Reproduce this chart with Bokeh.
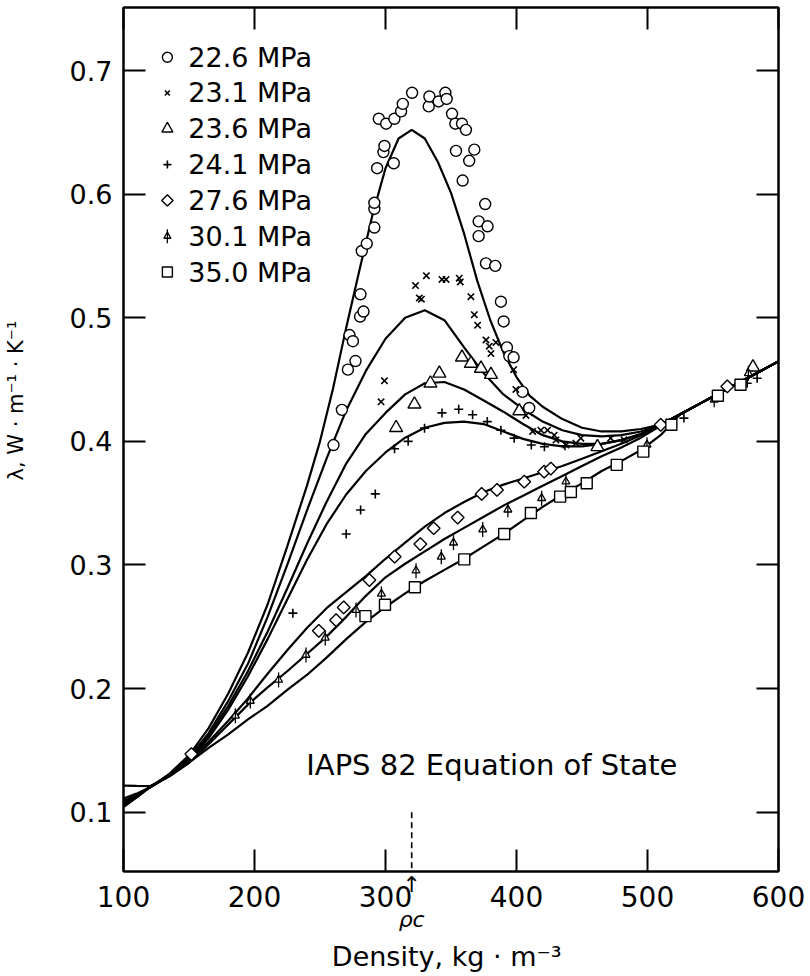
import math
from bokeh.plotting import figure
from bokeh.models import Range1d, LinearAxis, FixedTicker, Label, Title
from bokeh.core.properties import value
from bokeh.embed import file_html
from bokeh.resources import INLINE

FONT = "DejaVu Sans"
INK = "black"

# ---- fitted (IAPS 82) curves: thermal conductivity vs density ----
rho_fit_226 = [100, 110, 120, 135, 150, 165, 180, 195, 210, 225, 240, 250, 260, 270, 280,
               290, 300, 310, 320, 330, 340, 350, 360, 370, 380, 390, 400, 410, 420, 435,
               450, 465, 480, 495, 510, 525, 540, 570, 600]
lam_fit_226 = [0.104, 0.112, 0.120, 0.131, 0.146, 0.168, 0.196, 0.229, 0.268, 0.315, 0.364,
               0.400, 0.443, 0.492, 0.538, 0.583, 0.621, 0.645, 0.652, 0.645, 0.626, 0.601,
               0.568, 0.530, 0.498, 0.472, 0.452, 0.437, 0.428, 0.418, 0.411, 0.408, 0.408,
               0.410, 0.4135, 0.422, 0.4305, 0.4476, 0.4647]

rho_fit = [100, 110, 120, 135, 150, 165, 180, 195, 210, 225, 240, 255, 270, 285, 300, 315,
           330, 345, 360, 375, 390, 405, 420, 435, 450, 465, 480, 495, 510, 525, 540, 570, 600]
lam_fit_231 = [0.105, 0.112, 0.120, 0.130, 0.144, 0.164, 0.190, 0.220, 0.258, 0.300, 0.344,
               0.386, 0.425, 0.457, 0.483, 0.500, 0.506, 0.498, 0.476, 0.455, 0.438, 0.426,
               0.416, 0.409, 0.405, 0.404, 0.405, 0.408, 0.4135, 0.422, 0.4305, 0.4476, 0.4647]
lam_fit_236 = [0.106, 0.113, 0.120, 0.130, 0.143, 0.162, 0.186, 0.214, 0.246, 0.281, 0.317,
               0.351, 0.382, 0.406, 0.423, 0.438, 0.447, 0.448, 0.442, 0.433, 0.424, 0.414,
               0.405, 0.400, 0.398, 0.398, 0.401, 0.406, 0.4135, 0.422, 0.4305, 0.4476, 0.4647]
lam_fit_241 = [0.107, 0.114, 0.120, 0.130, 0.142, 0.160, 0.183, 0.210, 0.240, 0.272, 0.304,
               0.333, 0.357, 0.376, 0.391, 0.403, 0.411, 0.415, 0.416, 0.414, 0.408, 0.402,
               0.398, 0.396, 0.396, 0.398, 0.401, 0.406, 0.4135, 0.422, 0.4305, 0.4476, 0.4647]
lam_fit_276 = [0.109, 0.114, 0.120, 0.130, 0.142, 0.157, 0.174, 0.192, 0.212, 0.231, 0.249,
               0.265, 0.278, 0.291, 0.305, 0.318, 0.331, 0.342, 0.351, 0.359, 0.365, 0.370,
               0.375, 0.380, 0.386, 0.392, 0.398, 0.405, 0.4135, 0.422, 0.4305, 0.4476, 0.4647]
lam_fit_301 = [0.111, 0.115, 0.120, 0.129, 0.140, 0.155, 0.171, 0.187, 0.201, 0.214, 0.228,
               0.242, 0.258, 0.275, 0.290, 0.301, 0.311, 0.321, 0.330, 0.339, 0.348, 0.356,
               0.364, 0.372, 0.380, 0.388, 0.395, 0.403, 0.4125, 0.422, 0.4305, 0.4476, 0.4647]
lam_fit_350 = [0.1215, 0.1212, 0.121, 0.129, 0.140, 0.152, 0.163, 0.175, 0.186, 0.199, 0.211,
               0.225, 0.240, 0.254, 0.266, 0.277, 0.287, 0.296, 0.305, 0.315, 0.325, 0.336,
               0.347, 0.357, 0.366, 0.376, 0.384, 0.393, 0.405, 0.422, 0.4305, 0.4476, 0.4647]

# ---- measured points, one pair of lists per isobar ----
rho_226 = [260.3, 266.7, 271.3, 277.1, 272.5, 275.1, 280.6, 283.2, 280.9, 281.9, 285.7, 291.5,
           291.5, 291.5, 293.6, 298.4, 299.2, 306.3, 294.9, 300.5, 306.8, 311.9, 313.2, 320.3,
           333.0, 333.5, 340.6, 345.7, 346.7, 350.8, 353.3, 358.4, 361.4, 353.8, 363.9, 367.8,
           358.9, 371.1, 376.1, 377.9, 371.1, 376.7, 383.8, 388.1, 390.2, 392.7, 394.5, 397.8,
           404.6, 409.7]
lam_226 = [0.397, 0.4255, 0.458, 0.465, 0.486, 0.481, 0.501, 0.505, 0.519, 0.554, 0.560, 0.573,
           0.588, 0.593, 0.621, 0.634, 0.639, 0.625, 0.661, 0.657, 0.661, 0.667, 0.673, 0.682,
           0.671, 0.679, 0.675, 0.682, 0.677, 0.665, 0.657, 0.657, 0.652, 0.635, 0.627, 0.636,
           0.611, 0.578, 0.592, 0.574, 0.566, 0.544, 0.542, 0.513, 0.497, 0.476, 0.469, 0.468,
           0.440, 0.427]

rho_231 = [296.6, 299.2, 322.9, 325.8, 327.4, 331.2, 343.1, 346.2, 356.3, 357.1, 365.2, 367.8,
           370.3, 376.7, 379.2, 380.5, 384.3, 397.8, 399.5, 407.2, 412.3, 418.6, 423.7, 428.8,
           430.1, 437.7, 445.3, 449.1, 471.9, 482.1]
lam_231 = [0.432, 0.449, 0.526, 0.516, 0.515, 0.534, 0.531, 0.531, 0.532, 0.529, 0.517, 0.5025,
           0.494, 0.482, 0.477, 0.471, 0.480, 0.458, 0.442, 0.421, 0.408, 0.409, 0.409, 0.405,
           0.401, 0.397, 0.3985, 0.4026, 0.4026, 0.4012]

rho_236 = [308.1, 322.1, 334.3, 341.1, 358.4, 365.2, 372.9, 380.5, 402.1, 461.8, 580.5]
lam_236 = [0.411, 0.430, 0.447, 0.455, 0.468, 0.463, 0.459, 0.454, 0.4245, 0.3955, 0.460]

rho_241 = [229.3, 270.0, 281.0, 292.2, 306.9, 317.3, 329.8, 343.1, 355.9, 366.5, 377.7, 388.1,
           398.2, 411.3, 421.3, 437.0, 527.8, 576.1, 583.7]
lam_241 = [0.261, 0.325, 0.3445, 0.3575, 0.394, 0.400, 0.4107, 0.423, 0.426, 0.4215, 0.416,
           0.409, 0.4026, 0.397, 0.3956, 0.3965, 0.4188, 0.447, 0.451]

rho_276 = [151.8, 249.1, 262.3, 268.1, 287.7, 307.0, 326.6, 336.8, 355.1, 373.4, 385.1, 405.9,
           421.1, 426.2, 510.1, 560.9]
lam_276 = [0.147, 0.2467, 0.2553, 0.2656, 0.2878, 0.3067, 0.3169, 0.3297, 0.3383, 0.3575,
           0.3607, 0.3674, 0.3755, 0.378, 0.4134, 0.4444]

rho_301 = [185.4, 196.8, 218.4, 239.3, 254.0, 277.5, 296.9, 323.3, 342.6, 351.9, 374.2, 393.4,
           419.2, 437.7, 499.6, 550.9, 577.0]
lam_301 = [0.178, 0.190, 0.207, 0.2272, 0.241, 0.2635, 0.2766, 0.2954, 0.3066, 0.318, 0.3286,
           0.3447, 0.354, 0.3674, 0.3972, 0.4336, 0.455]

rho_350 = [284.7, 299.6, 322.4, 360.1, 390.6, 411.0, 433.3, 441.5, 453.6, 476.5, 496.8, 518.2,
           553.7, 571.0]
lam_350 = [0.2586, 0.2678, 0.2820, 0.3045, 0.3250, 0.3420, 0.3553, 0.3590, 0.3661, 0.3810,
           0.3917, 0.4134, 0.4369, 0.4458]

pressure_labels = ["22.6 MPa", "23.1 MPa", "23.6 MPa", "24.1 MPa", "27.6 MPa", "30.1 MPa",
                   "35.0 MPa"]
x_ticks = [100, 200, 300, 400, 500, 600]
y_ticks = [0.1, 0.2, 0.3, 0.4, 0.5, 0.6, 0.7]
rho_c = 320

p = figure(width=810, height=976, x_range=Range1d(100, 600), y_range=Range1d(0.052, 0.751),
           output_backend="svg", toolbar_location=None,
           min_border_left=122, min_border_right=32, min_border_top=7, min_border_bottom=105,
           background_fill_color="white", border_fill_color="white")
p.grid.visible = False
p.outline_line_color = INK
p.outline_line_width = 2


def style_axis(ax, ticks, labelled, size="26px"):
    ax.ticker = FixedTicker(ticks=ticks)
    ax.axis_line_width = 2
    ax.axis_line_color = INK
    ax.major_tick_in = 22
    ax.major_tick_out = 0
    ax.major_tick_line_width = 2
    ax.major_tick_line_color = INK
    ax.minor_tick_line_color = None
    if labelled:
        ax.major_label_text_font = FONT
        ax.major_label_text_font_size = size
        ax.major_label_text_color = INK
    else:
        ax.major_label_text_font_size = "0px"
        ax.major_label_text_color = None
        ax.major_label_standoff = 0


style_axis(p.xaxis[0], x_ticks, True, "28px")
p.xaxis[0].major_label_standoff = 14
style_axis(p.yaxis[0], y_ticks, True, "27px")
p.yaxis[0].major_label_standoff = 11
# blank spacer label keeps the conductivity title clear of the tick numbers
p.yaxis[0].axis_label = "\u00a0"
p.yaxis[0].axis_label_text_font_size = "21px"
p.yaxis[0].axis_label_standoff = 12

top_axis = LinearAxis()
style_axis(top_axis, x_ticks, False)
p.add_layout(top_axis, "above")
right_axis = LinearAxis()
style_axis(right_axis, y_ticks, False)
p.add_layout(right_axis, "right")

# second row under the density axis: critical-density pointer and the axis title
rho_axis = LinearAxis(ticker=FixedTicker(ticks=[rho_c]),
                      major_label_overrides={rho_c: "↑\nρc"},
                      axis_line_color=None, major_tick_line_color=None,
                      minor_tick_line_color=None, major_tick_in=0, major_tick_out=0,
                      major_label_standoff=-38, major_label_text_font=FONT,
                      major_label_text_font_size="22px", major_label_text_font_style="italic",
                      major_label_text_line_height=1.4, major_label_text_color=INK,
                      axis_label="Density,  kg · m⁻³", axis_label_text_font=FONT,
                      axis_label_text_font_size="27px", axis_label_text_font_style="normal",
                      axis_label_text_color=INK, axis_label_standoff=6)
p.add_layout(rho_axis, "below")

p.add_layout(Title(text="λ, W · m⁻¹ · K⁻¹", align="left", offset=391, standoff=2,
                   text_font=FONT, text_font_size="21px", text_font_style="normal",
                   text_color=INK), "left")

# fitted curves
p.line(rho_fit_226, lam_fit_226, line_color=INK, line_width=2.2)
for lam in [lam_fit_231, lam_fit_236, lam_fit_241, lam_fit_276, lam_fit_301, lam_fit_350]:
    p.line(rho_fit, lam, line_color=INK, line_width=2.2)

# critical density, dashed up from the axis
p.segment(x0=[rho_c], y0=[0.1], x1=[rho_c], y1=[0.052], line_color=INK, line_width=1.6,
          line_dash="6 4")

# marker styles for the data and for the key
styles = [
    [dict(marker="circle", size=11, line_width=1.4, fill_color="white")],
    [dict(marker="x", size=9, line_width=1.6)],
    [dict(marker="triangle", size=13, line_width=1.4, fill_color="white")],
    [dict(marker="cross", size=9, line_width=1.6)],
    [dict(marker="square", angle=math.pi / 4, size=9, line_width=1.4, fill_color="white")],
    [dict(marker="triangle", size=8, line_width=1.3, fill_color="white"),
     dict(marker="dash", angle=math.pi / 2, size=15, line_width=1.3)],
    [dict(marker="square", size=11, line_width=1.4, fill_color="white")],
]
key_styles = [
    [dict(marker="circle", size=10, line_width=1.4, fill_color="white")],
    [dict(marker="x", size=7, line_width=1.6)],
    [dict(marker="triangle", size=11, line_width=1.4, fill_color="white")],
    [dict(marker="cross", size=8, line_width=1.6)],
    [dict(marker="square", angle=math.pi / 4, size=8, line_width=1.4, fill_color="white")],
    [dict(marker="triangle", size=7, line_width=1.3, fill_color="white"),
     dict(marker="dash", angle=math.pi / 2, size=14, line_width=1.3)],
    [dict(marker="square", size=10, line_width=1.4, fill_color="white")],
]
series = [(rho_226, lam_226), (rho_231, lam_231), (rho_236, lam_236), (rho_241, lam_241),
          (rho_276, lam_276), (rho_301, lam_301), (rho_350, lam_350)]

for (xs, ys), parts in zip(series, styles):
    for st in parts:
        p.scatter(xs, ys, line_color=INK, **st)

# key in the upper-left corner of the frame
key_x_mark, key_x_text = 133.5, 149.5
key_y0, key_dy = 0.7108, 0.02897
key_y = [key_y0 - i * key_dy for i in range(len(pressure_labels))]
for yk, parts in zip(key_y, key_styles):
    for st in parts:
        p.scatter([key_x_mark], [yk], line_color=INK, **st)
p.text(x=[key_x_text] * len(pressure_labels), y=key_y, text=pressure_labels,
       text_font=value(FONT), text_font_size="27px", text_baseline="middle",
       text_color=INK)

p.add_layout(Label(x=239.5, y=0.138, text="IAPS 82 Equation of State", text_font=FONT,
                   text_font_size="29px", text_baseline="alphabetic", text_color=INK))

open("out.html", "w").write(file_html(p, INLINE))
